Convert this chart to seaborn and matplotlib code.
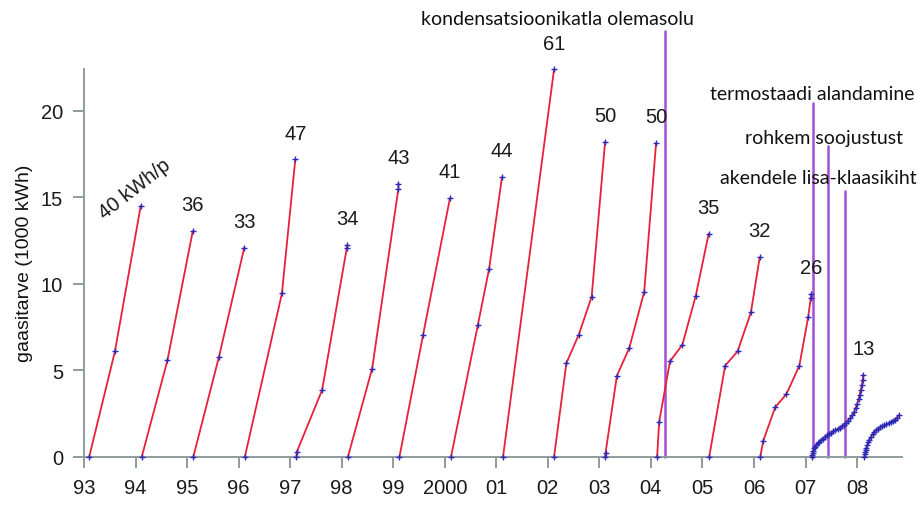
import pandas as pd
import matplotlib
matplotlib.use("Agg")
import matplotlib.pyplot as plt
import seaborn as sns

# heating seasons: measurement dates (as year fractions) and cumulative gas use (1000 kWh)
s93_x = [1993.10, 1993.60, 1994.10]
s93_y = [0, 6.1, 14.5]
s94_x = [1994.12, 1994.62, 1995.11]
s94_y = [0, 5.6, 13.05]
s95_x = [1995.12, 1995.62, 1996.11]
s95_y = [0, 5.8, 12.1]
s96_x = [1996.12, 1996.84, 1997.10]
s96_y = [0, 9.45, 17.2]
s97_x = [1997.12, 1997.13, 1997.62, 1998.10, 1998.11]
s97_y = [0, 0.3, 3.87, 12.1, 12.25]
s98_x = [1998.12, 1998.59, 1999.10, 1999.10]
s98_y = [0, 5.1, 15.5, 15.8]
s99_x = [1999.12, 1999.58, 2000.10]
s99_y = [0, 7.07, 14.95]
s00_x = [2000.12, 2000.64, 2000.86, 2001.11]
s00_y = [0, 7.6, 10.87, 16.17]
s01_x = [2001.13, 2002.12]
s01_y = [0, 22.4]
s02_x = [2002.12, 2002.36, 2002.60, 2002.85, 2003.11]
s02_y = [0, 5.43, 7.07, 9.27, 18.2]
s03_x = [2003.11, 2003.12, 2003.34, 2003.58, 2003.87, 2004.10]
s03_y = [0, 0.25, 4.7, 6.3, 9.56, 18.15]
s04_x = [2004.12, 2004.16, 2004.37, 2004.61, 2004.87, 2005.12]
s04_y = [0, 2.04, 5.53, 6.49, 9.32, 12.9]
s05_x = [2005.13, 2005.44, 2005.68, 2005.94, 2006.11]
s05_y = [0, 5.28, 6.1, 8.36, 11.54]
s06_x = [2006.12, 2006.18, 2006.41, 2006.63, 2006.88, 2007.05, 2007.10, 2007.11]
s06_y = [0, 0.94, 2.87, 3.64, 5.28, 8.07, 9.17, 9.4]
s07_x = [2007.12, 2007.13, 2007.14, 2007.15, 2007.17, 2007.19, 2007.21, 2007.24,
         2007.27, 2007.30, 2007.34, 2007.38, 2007.42, 2007.46, 2007.50, 2007.54,
         2007.58, 2007.62, 2007.66, 2007.70, 2007.74, 2007.78, 2007.82, 2007.86,
         2007.90, 2007.94, 2007.97, 2008.00, 2008.03, 2008.05, 2008.07, 2008.09,
         2008.11, 2008.12]
s07_y = [0, 0.12, 0.25, 0.36, 0.5, 0.6, 0.68, 0.78, 0.87, 0.96, 1.06, 1.16, 1.25,
         1.33, 1.41, 1.49, 1.56, 1.62, 1.69, 1.77, 1.87, 1.98, 2.1, 2.25, 2.4, 2.6,
         2.82, 3.06, 3.35, 3.58, 3.85, 4.15, 4.45, 4.75]
s08_x = [2008.14, 2008.15, 2008.16, 2008.17, 2008.18, 2008.20, 2008.22, 2008.24,
         2008.27, 2008.30, 2008.33, 2008.37, 2008.41, 2008.45, 2008.49, 2008.53,
         2008.57, 2008.61, 2008.65, 2008.69, 2008.73, 2008.77, 2008.81]
s08_y = [0, 0.15, 0.28, 0.4, 0.5, 0.68, 0.85, 1.0, 1.18, 1.33, 1.45, 1.56, 1.64,
         1.71, 1.77, 1.83, 1.88, 1.94, 2.0, 2.07, 2.16, 2.28, 2.43]

season_x = [s93_x, s94_x, s95_x, s96_x, s97_x, s98_x, s99_x, s00_x,
            s01_x, s02_x, s03_x, s04_x, s05_x, s06_x, s07_x, s08_x]
season_y = [s93_y, s94_y, s95_y, s96_y, s97_y, s98_y, s99_y, s00_y,
            s01_y, s02_y, s03_y, s04_y, s05_y, s06_y, s07_y, s08_y]
# consumption per degree-day, written above each season
season_labels = ["40 kWh/p", "36", "33", "47", "34", "43", "41", "44",
                 "61", "50", "50", "35", "32", "26", "13", ""]

year_ticks = list(range(1993, 2009))
year_ticklabels = ["93", "94", "95", "96", "97", "98", "99", "2000",
                   "01", "02", "03", "04", "05", "06", "07", "08"]

# events: x position, top of the line, label, label baseline
event_x = [2004.275, 2007.15, 2007.44, 2007.77]
event_top = [24.6, 20.46, 18.0, 15.36]
event_labels = ["kondensatsioonikatla olemasolu", "termostaadi alandamine",
                "rohkem soojustust", "akendele lisa-klaasikiht"]
event_label_x = [2002.18, 2007.13, 2007.35, 2007.25]
event_label_y = [25.0, 20.69, 18.15, 15.82]

rows = []
for i, (xs, ys) in enumerate(zip(season_x, season_y)):
    for x, y in zip(xs, ys):
        rows.append({"season": i, "x": x, "y": y})
df = pd.DataFrame(rows)

sns.set_theme(style="ticks")
plt.rcParams["font.family"] = ["Liberation Sans", "DejaVu Sans"]

axis_grey = "#8d9c9c"
fig = plt.figure(figsize=(9.18, 5.1), dpi=100)
ax = fig.add_axes([0.0915, 0.102, 0.891, 0.7616])

sns.lineplot(data=df, x="x", y="y", units="season", estimator=None, sort=False,
             color="#e8203a", linewidth=1.3, marker="+", markersize=5,
             markeredgecolor="#2a2ab8", markeredgewidth=1.0, clip_on=False,
             zorder=3, ax=ax)

for xs, ys, lab in zip(season_x, season_y, season_labels):
    if not lab:
        continue
    if lab == "40 kWh/p":
        ax.annotate(lab, (xs[-1], ys[-1]), xytext=(-4, 13), textcoords="offset points",
                    ha="center", va="center", rotation=38, fontsize=14.5,
                    color="#1a1a1a")
    else:
        ax.annotate(lab, (xs[-1], ys[-1]), xytext=(0, 19), textcoords="offset points",
                    ha="center", va="center", fontsize=14.5, color="#1a1a1a")

for x, top, lab, lx, ly in zip(event_x, event_top, event_labels,
                               event_label_x, event_label_y):
    ax.plot([x, x], [0, top], color="#a24fd6", linewidth=1.8, clip_on=False,
            zorder=2)
    ax.text(lx, ly, lab, ha="center", va="baseline", fontsize=14,
            color="#111111", family=["Lato", "DejaVu Sans"])

ax.set_xlim(1993, 2008.87)
ax.set_ylim(0, 22.45)
ax.set_xticks(year_ticks)
ax.set_xticklabels(year_ticklabels)
ax.set_yticks([0, 5, 10, 15, 20])
ax.set_xlabel("")
ax.set_ylabel("gaasitarve (1000 kWh)", fontsize=14, labelpad=6, color="#111111")

sns.despine(ax=ax)
for side in ["left", "bottom"]:
    ax.spines[side].set_color(axis_grey)
    ax.spines[side].set_linewidth(1.4)
ax.tick_params(axis="both", colors=axis_grey, length=8, width=1.4,
               labelsize=14.5, labelcolor="#1a1a1a", pad=7)

fig.savefig("out.png", dpi=100)
